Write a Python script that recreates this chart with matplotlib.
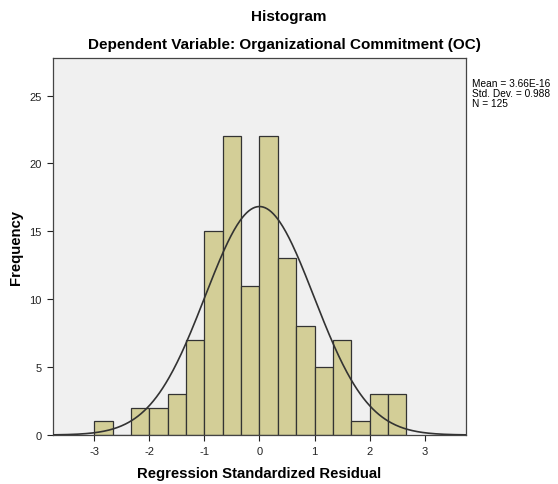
import numpy as np
import matplotlib
matplotlib.use("Agg")
import matplotlib.pyplot as plt

plt.rcParams["font.family"] = ["Liberation Sans", "DejaVu Sans"]
plt.rcParams["axes.unicode_minus"] = False

# histogram bins (left edges, width 1/3) and counts
bin_left = [-3.0, -2.667, -2.333, -2.0, -1.667, -1.333, -1.0, -0.667, -0.333,
            0.0, 0.333, 0.667, 1.0, 1.333, 1.667, 2.0, 2.333]
counts = [1, 0, 2, 2, 3, 7, 15, 22, 11, 22, 13, 8, 5, 7, 1, 3, 3]
bin_width = 1 / 3
mean, sd, n = 3.66e-16, 0.988, 125

xticks = [-3, -2, -1, 0, 1, 2, 3]
yticks = [0, 5, 10, 15, 20, 25]

fig = plt.figure(figsize=(5.58, 4.85), dpi=100)
ax = fig.add_axes([0.095, 0.101, 0.740, 0.777])
ax.set_facecolor("#f0f0f0")

ax.bar(bin_left, counts, width=bin_width, align="edge",
       color="#d3ce97", edgecolor="#333333", linewidth=0.9, zorder=2)

xs = np.linspace(-3.75, 3.75, 400)
ys = n * bin_width * np.exp(-0.5 * ((xs - mean) / sd) ** 2) / (sd * np.sqrt(2 * np.pi))
ax.plot(xs, ys, color="#333333", linewidth=1.2, zorder=3)

ax.set_xlim(-3.75, 3.75)
ax.set_ylim(0, 27.75)
ax.set_xticks(xticks)
ax.set_yticks(yticks)
ax.tick_params(direction="out", length=4.5, width=0.8, labelsize=8, colors="#222222")
for s in ax.spines.values():
    s.set_color("#444444")
    s.set_linewidth(0.9)

ax.set_xlabel("Regression Standardized Residual", fontsize=10.7, fontweight="bold", labelpad=7)
ax.set_ylabel("Frequency", fontsize=10.7, fontweight="bold", labelpad=5)

fig.text(289 / 558, 1 - 17 / 485, "Histogram", ha="center", va="center",
         fontsize=11, fontweight="bold")
fig.text(284 / 558, 1 - 45 / 485, "Dependent Variable: Organizational Commitment (OC)",
         ha="center", va="center", fontsize=11, fontweight="bold")

fig.text(472 / 558, 1 - 79 / 485,
         "Mean = 3.66E-16\nStd. Dev. = 0.988\nN = 125",
         ha="left", va="top", fontsize=7.3, linespacing=0.98)

fig.savefig("out.png", dpi=100)
